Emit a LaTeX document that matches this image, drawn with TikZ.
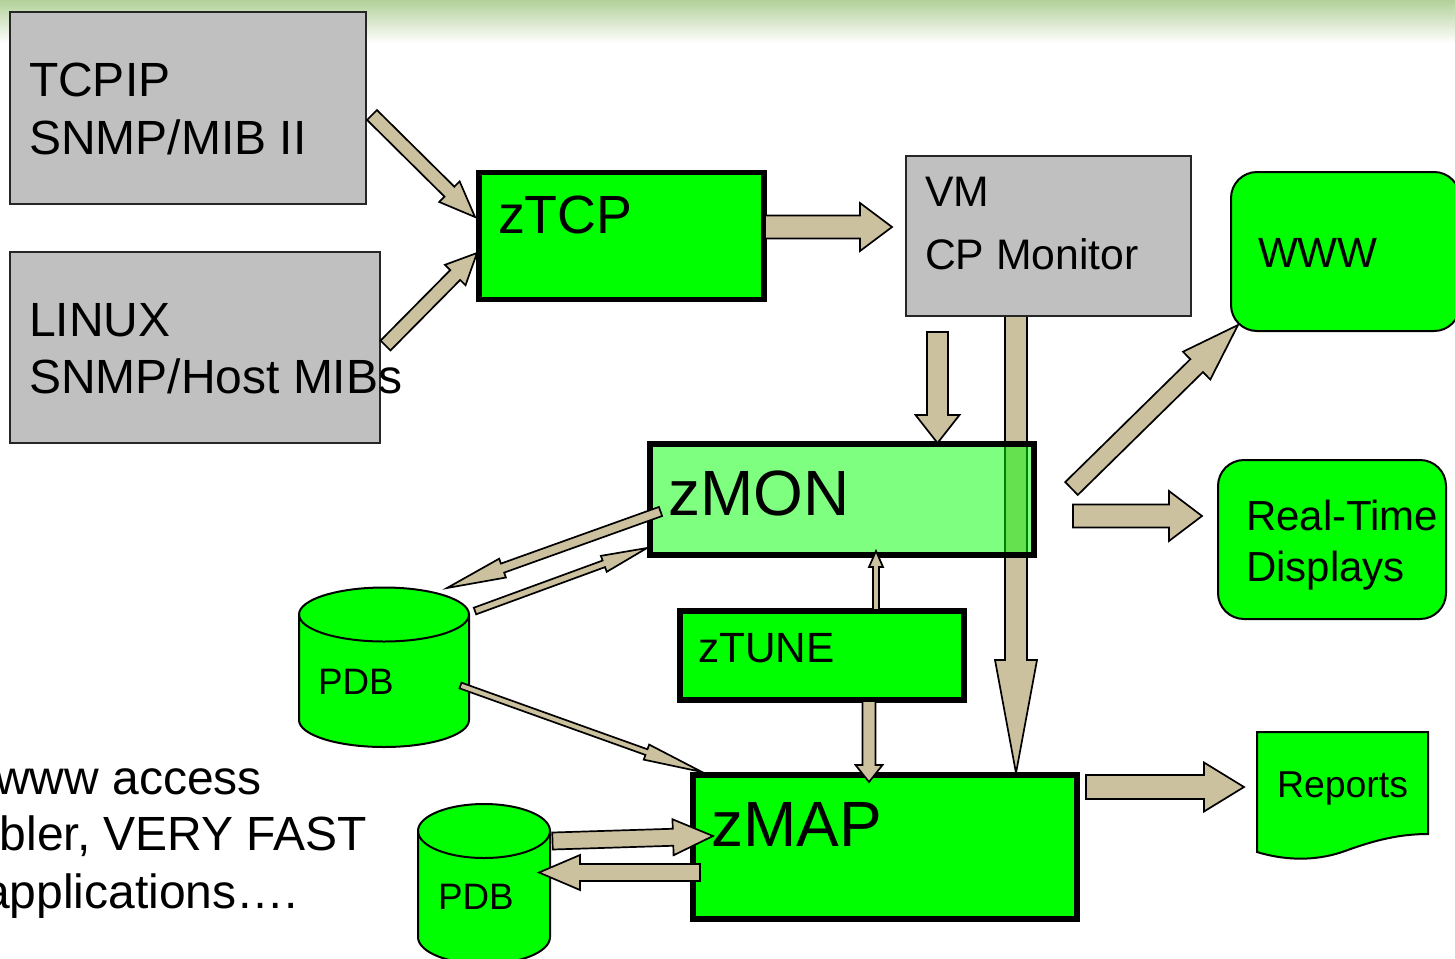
\documentclass[tikz,border=0pt]{standalone}
\usepackage{fontspec}
\setmainfont{Liberation Sans}
\usetikzlibrary{calc}
\definecolor{tan}{RGB}{204,193,158}
\definecolor{boxgray}{RGB}{192,192,192}
\definecolor{limeg}{RGB}{0,255,0}
\definecolor{bandg}{RGB}{178,208,152}
\tikzset{
  grayrect/.style={draw=black!85,line width=2pt,fill=boxgray,rectangle,inner sep=0pt,outer sep=0pt,anchor=north west},
  heavyrect/.style={draw=black,line width=5.6pt,fill=limeg,rectangle,inner sep=0pt,outer sep=0pt,anchor=north west},
  softrect/.style={draw=black,line width=5.6pt,fill=limeg,fill opacity=0.5,rectangle,inner sep=0pt,outer sep=0pt,anchor=north west},
  roundrect/.style={draw=black,line width=2pt,fill=limeg,rectangle,rounded corners=26pt,inner sep=0pt,outer sep=0pt,anchor=north west},
  flowarrow/.style={draw=black,line width=1.7pt,fill=tan,line join=miter},
  solidshape/.style={draw=black,line width=2pt,fill=limeg},
  lab/.style={inner sep=0pt,outer sep=0pt,anchor=base west,text=black},
  labr/.style={inner sep=0pt,outer sep=0pt,anchor=base east,text=black}
}
\newcommand{\blockarrow}[5]{%
  \coordinate (hb) at ($(#2)!#5pt!(#1)$);
  \draw[flowarrow] ($(#1)!#3pt!90:(#2)$) -- ($(hb)!#3pt!90:(#2)$) -- ($(hb)!#4pt!90:(#2)$) -- (#2)
    -- ($(hb)!#4pt!-90:(#2)$) -- ($(hb)!#3pt!-90:(#2)$) -- ($(#1)!#3pt!-90:(#2)$) -- cycle;}
\newcommand{\fs}[1]{\fontsize{#1}{#1}\selectfont}
\begin{document}
\begin{tikzpicture}[x=1pt,y=-1pt]
\useasboundingbox (0,0) rectangle (1455,958);
% header band
\fill[top color=bandg,bottom color=white] (0,0) rectangle (1455,43);

% arrow passing behind VM and zMON
\coordinate (vmS) at (1016,316); \coordinate (vmT) at (1016,773);
\blockarrow{vmS}{vmT}{11}{21}{113}

% boxes
\node[grayrect,minimum width=356pt,minimum height=192pt] (tcpip) at (10,12) {};
\node[grayrect,minimum width=370pt,minimum height=191pt] (linux) at (10,252) {};
\node[heavyrect,minimum width=285pt,minimum height=127pt] (ztcp) at (479,172.5) {};
\node[grayrect,minimum width=285pt,minimum height=160pt] (vm) at (906,156) {};
\node[roundrect,minimum width=229pt,minimum height=159pt] (www) at (1231,172) {};
\node[roundrect,minimum width=228pt,minimum height=159pt] (rtd) at (1218,460) {};
\node[softrect,minimum width=384pt,minimum height=111pt] (zmon) at (650,444) {};
\node[heavyrect,minimum width=284pt,minimum height=89pt] (ztune) at (680,611) {};
\node[heavyrect,minimum width=384pt,minimum height=144pt] (zmap) at (693,775) {};

% PDB cylinders
\draw[solidshape] (299,614.5) -- (299,720) arc[start angle=180,end angle=360,x radius=85pt,y radius=27pt] -- (469,614.5)
   arc[start angle=0,end angle=180,x radius=85pt,y radius=27pt] -- cycle;
\draw[line width=2pt] (299,614.5) arc[start angle=180,end angle=360,x radius=85pt,y radius=27pt];
\draw[solidshape] (418,831) -- (418,937) arc[start angle=180,end angle=360,x radius=66pt,y radius=27pt] -- (550,831)
   arc[start angle=0,end angle=180,x radius=66pt,y radius=27pt] -- cycle;
\draw[line width=2pt] (418,831) arc[start angle=180,end angle=360,x radius=66pt,y radius=27pt];

% Reports document
\draw[solidshape] (1257,732) -- (1428,732) -- (1428,834)
   .. controls (1400,834) and (1375,840) .. (1345,851)
   .. controls (1320,860) and (1290,862) .. (1257,852) -- cycle;

% block arrows
\coordinate (a1s) at (372,115);     \coordinate (a1t) at (475,217);
\coordinate (a2s) at (385.5,345.5); \coordinate (a2t) at (477,253);
\coordinate (a3s) at (765,227);     \coordinate (a3t) at (892,227);
\coordinate (a4s) at (937.5,332);   \coordinate (a4t) at (937.5,443);
\coordinate (a6s) at (1071.5,488.5);\coordinate (a6t) at (1238,325);
\coordinate (a7s) at (1073,516);    \coordinate (a7t) at (1202,516);
\coordinate (a8s) at (660.5,511.5); \coordinate (a8t) at (447,588);
\coordinate (a9s) at (475,611);     \coordinate (a9t) at (647,548);
\coordinate (a10s) at (460.5,685.5);\coordinate (a10t) at (702,772);
\coordinate (a11s) at (876,610);    \coordinate (a11t) at (876,551);
\coordinate (a12s) at (869,701);    \coordinate (a12t) at (869,782);
\coordinate (a13s) at (1086,787);   \coordinate (a13t) at (1244,787);
\coordinate (a14s) at (552.5,841);  \coordinate (a14t) at (713,836);
\coordinate (a15s) at (700,872.5);  \coordinate (a15t) at (539,872.5);
\blockarrow{a1s}{a1t}{7}{14.5}{36}
\blockarrow{a2s}{a2t}{7}{14.5}{31}
\blockarrow{a3s}{a3t}{11.5}{24}{32}
\blockarrow{a4s}{a4t}{10.5}{22}{28}
\blockarrow{a6s}{a6t}{9}{19.5}{58}
\blockarrow{a7s}{a7t}{11.5}{25}{33}
\blockarrow{a8s}{a8t}{4.8}{10}{59}
\blockarrow{a9s}{a9t}{3.5}{8.5}{46}
\blockarrow{a10s}{a10t}{3}{8}{59}
\blockarrow{a11s}{a11t}{3}{7}{16}
\blockarrow{a12s}{a12t}{6.5}{13.5}{17}
\blockarrow{a13s}{a13t}{12}{24.5}{40}
\blockarrow{a14s}{a14t}{8.5}{18}{40}
\blockarrow{a15s}{a15t}{8.5}{17.5}{41}

% labels
\node[lab,font=\fs{48}] (t1) at (29,96) {TCPIP};
\node[lab,font=\fs{48}] (t2) at (29,154) {SNMP/MIB II};
\node[lab,font=\fs{48}] (t3) at (29,336) {LINUX};
\node[lab,font=\fs{48}] (t4) at (29,393) {SNMP/Host MIBs};
\node[lab,font=\fs{53.8}] (t5) at (498,233) {zTCP};
\node[lab,font=\fs{42.7}] (t6) at (925,206) {VM};
\node[lab,font=\fs{42.7}] (t7) at (925,269) {CP Monitor};
\node[lab,font=\fs{42.3}] (t8) at (1258,267) {WWW};
\node[lab,font=\fs{42}] (t9) at (1246,530) {Real-Time};
\node[lab,font=\fs{42}] (t10) at (1246,581) {Displays};
\node[lab,font=\fs{64}] (t11) at (668.5,515.5) {zMON};
\node[lab,font=\fs{42.3}] (t12) at (698,662.5) {zTUNE};
\node[lab,font=\fs{64}] (t13) at (711,846) {zMAP};
\node[lab,font=\fs{37.4}] (t14) at (1277,797) {Reports};
\node[lab,font=\fs{36.8}] (t15) at (318,694) {PDB};
\node[lab,font=\fs{36.8}] (t16) at (438,909) {PDB};
\node[labr,font=\fs{48}] (t17) at (262,794) {www access};
\node[labr,font=\fs{48}] (t18) at (367,850) {bler, VERY FAST};
\node[labr,font=\fs{48}] (t19) at (298,908.5) {applications….};
\end{tikzpicture}
\end{document}
